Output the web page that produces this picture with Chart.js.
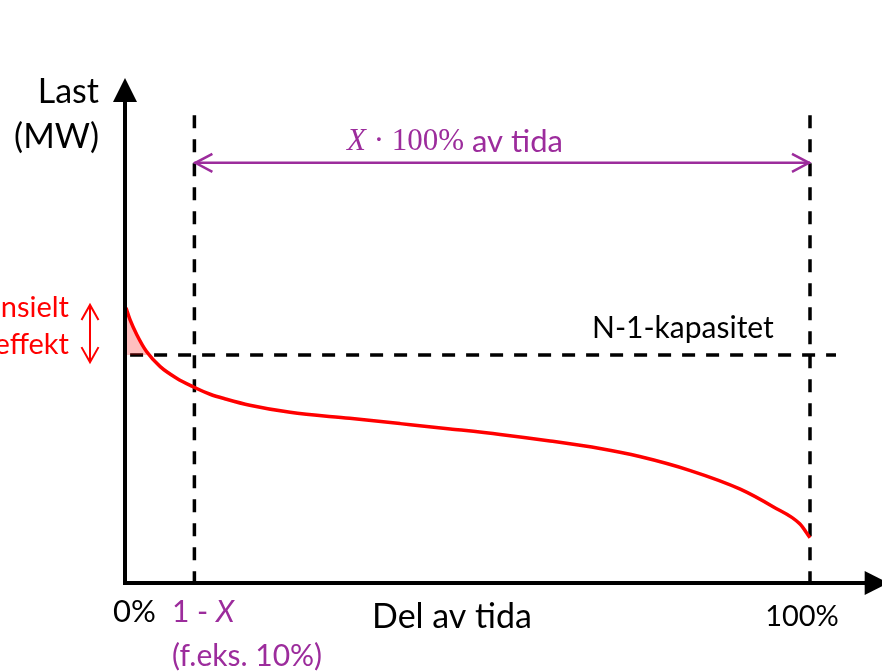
<!DOCTYPE html>
<html>
<head>
<meta charset="utf-8">
<script src="https://cdn.jsdelivr.net/npm/chart.js@4"></script>
<style>
  body { margin: 0; background: #fff; }
  #wrap { width: 882px; height: 672px; }
</style>
</head>
<body>
<div id="wrap"><canvas id="chart" width="882" height="672"></canvas></div>
<script>
// load duration curve: share of time (%) vs load (arbitrary units, axis 0-100)
const timeShare = [0, 0.6, 1.6, 3.0, 5.0, 7.4, 9.8, 12.3, 14.7, 18.1, 24, 32.7, 40.1, 47.4, 54.7, 62.0, 69.3, 75.1, 82.5, 89.8, 94.6, 98.5, 100];
const load = [54.6, 52.2, 49.2, 45.9, 42.9, 40.6, 38.9, 37.4, 36.4, 35.2, 33.8, 32.6, 31.55, 30.5, 29.4, 28.1, 26.6, 25.0, 22.2, 18.5, 15.0, 11.6, 8.8];

const n1Capacity = 45.2;
const n1LineEnd = 103.8;
const markerShares = [10, 100];
const markerTop = 93;
const spanY = 83.5;
const excessRange = [55.2, 43.8];   // red double arrow
const axisEnd = [111.5, 100];       // x arrow tip, y arrow tip

const purple = '#9c2c9c';
const sans = 'Lato, "Open Sans", sans-serif';
const serif = '"Liberation Serif", "DejaVu Serif", serif';

const pts = (xs, ys) => xs.map((x, i) => ({ x: x, y: ys[i] }));

const datasets = [
  {
    data: pts(timeShare, load),
    borderColor: '#ff0000',
    borderWidth: 3.5,
    pointRadius: 0,
    cubicInterpolationMode: 'monotone',
    fill: { value: n1Capacity, above: 'rgba(255,0,0,0.25)', below: 'rgba(0,0,0,0)' },
    clip: false
  },
  {
    data: [{ x: 0.6, y: n1Capacity }, { x: n1LineEnd, y: n1Capacity }],
    borderColor: '#000',
    borderWidth: 3.5,
    borderDash: [13, 11],
    pointRadius: 0,
    fill: false,
    clip: false
  },
  {
    data: [{ x: markerShares[0], y: spanY }, { x: markerShares[1], y: spanY }],
    borderColor: purple,
    borderWidth: 2.5,
    pointRadius: 0,
    fill: false,
    clip: false
  }
];
markerShares.forEach(s => {
  datasets.push({
    data: [{ x: s, y: markerTop }, { x: s, y: 0 }],
    borderColor: '#000',
    borderWidth: 3.5,
    borderDash: [13, 11],
    pointRadius: 0,
    fill: false,
    clip: false
  });
});

function chevron(ctx, x, y, dx, dy, len, half) {
  // tip at (x,y), pointing in direction (dx,dy)
  const px = -dy, py = dx;
  ctx.beginPath();
  ctx.moveTo(x - dx * len + px * half, y - dy * len + py * half);
  ctx.lineTo(x, y);
  ctx.lineTo(x - dx * len - px * half, y - dy * len - py * half);
  ctx.stroke();
}

function textRun(ctx, x, y, parts) {
  let cx = x;
  parts.forEach(p => {
    ctx.font = p.font;
    ctx.fillStyle = p.color;
    ctx.fillText(p.text, cx, y);
    cx += ctx.measureText(p.text).width;
  });
}

const decor = {
  id: 'decor',
  afterDatasetsDraw(chart) {
    const ctx = chart.ctx;
    const xs = chart.scales.x, ys = chart.scales.y;
    const x0 = xs.getPixelForValue(0) - 1, y0 = ys.getPixelForValue(0) + 1;
    const xTip = xs.getPixelForValue(axisEnd[0]);
    const yTip = ys.getPixelForValue(axisEnd[1]) - 2;
    ctx.save();
    // axes
    ctx.strokeStyle = '#000';
    ctx.fillStyle = '#000';
    ctx.lineWidth = 4;
    ctx.beginPath();
    ctx.moveTo(x0, y0 + 2);
    ctx.lineTo(x0, yTip + 20);
    ctx.moveTo(x0 - 2, y0);
    ctx.lineTo(xTip - 20, y0);
    ctx.stroke();
    ctx.beginPath();
    ctx.moveTo(x0, yTip);
    ctx.lineTo(x0 - 12, yTip + 24);
    ctx.lineTo(x0 + 12, yTip + 24);
    ctx.closePath();
    ctx.fill();
    ctx.beginPath();
    ctx.moveTo(xTip, y0);
    ctx.lineTo(xTip - 24, y0 - 12);
    ctx.lineTo(xTip - 24, y0 + 12);
    ctx.closePath();
    ctx.fill();

    // purple span arrow heads
    ctx.strokeStyle = purple;
    ctx.lineWidth = 2.5;
    const sy = ys.getPixelForValue(spanY);
    chevron(ctx, xs.getPixelForValue(markerShares[0]) + 1, sy, -1, 0, 17, 9);
    chevron(ctx, xs.getPixelForValue(markerShares[1]) - 1, sy, 1, 0, 17, 9);

    // red double arrow
    ctx.strokeStyle = '#ff0000';
    ctx.lineWidth = 2;
    const ra = ys.getPixelForValue(excessRange[0]), rb = ys.getPixelForValue(excessRange[1]);
    ctx.beginPath();
    ctx.moveTo(90, ra);
    ctx.lineTo(90, rb);
    ctx.stroke();
    chevron(ctx, 90, ra, 0, -1, 15, 8.5);
    chevron(ctx, 90, rb, 0, 1, 15, 8.5);

    // texts
    ctx.textBaseline = 'middle';
    ctx.textAlign = 'right';
    ctx.fillStyle = '#000';
    ctx.font = '34px ' + sans;
    ctx.fillText('Last', 99, 92);
    ctx.fillText('(MW)', 99, 137);
    ctx.fillStyle = '#ff0000';
    ctx.font = '29px ' + sans;
    ctx.fillText('Potensielt', 69, 308);
    ctx.fillText('tapt effekt', 69, 345);

    ctx.textAlign = 'left';
    ctx.fillStyle = '#000';
    ctx.font = '30px ' + sans;
    ctx.fillText('N-1-kapasitet', 592, 328);
    ctx.font = '31px ' + sans;
    ctx.fillText('0%', 113, 612);
    ctx.textAlign = 'center';
    ctx.font = '34px ' + sans;
    ctx.fillText('Del av tida', 452, 617);
    ctx.font = '29px ' + sans;
    ctx.fillText('100%', 802, 617);

    ctx.textAlign = 'left';
    textRun(ctx, 347, 142, [
      { text: 'X', font: 'italic 31px ' + serif, color: purple },
      { text: ' \u00B7 100%', font: '31px ' + serif, color: purple },
      { text: ' av tida', font: '31px ' + sans, color: purple }
    ]);
    textRun(ctx, 172, 612, [
      { text: '1 - ', font: '30px ' + sans, color: purple },
      { text: 'X', font: 'italic 30px ' + sans, color: purple }
    ]);
    ctx.fillStyle = purple;
    ctx.font = '30px ' + sans;
    ctx.fillText('(f.eks. 10%)', 172, 656);
    ctx.restore();
  }
};

new Chart(document.getElementById('chart'), {
  type: 'line',
  data: { datasets: datasets },
  options: {
    responsive: false,
    devicePixelRatio: 1,
    animation: false,
    layout: { padding: { left: 126, right: 72, top: 80, bottom: 90 } },
    plugins: { legend: { display: false }, tooltip: { enabled: false } },
    scales: {
      x: { type: 'linear', min: 0, max: 100, display: false },
      y: { type: 'linear', min: 0, max: 100, display: false }
    }
  },
  plugins: [decor]
});
</script>
</body>
</html>
